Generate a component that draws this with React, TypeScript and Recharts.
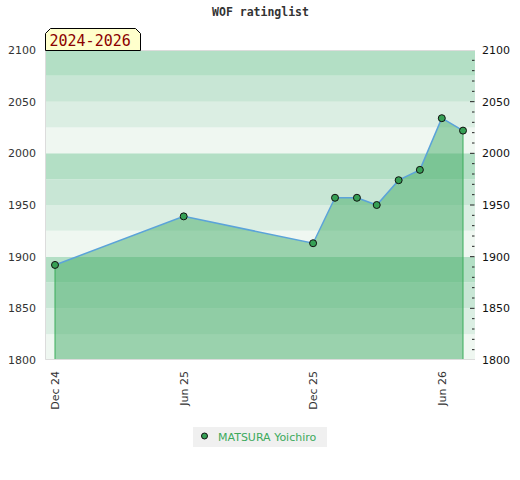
import {
  ComposedChart,
  Area,
  Line,
  XAxis,
  YAxis,
  ReferenceArea,
  ReferenceLine,
} from "recharts"

const listDates = [
  "2024-12-01",
  "2025-06-01",
  "2025-12-01",
  "2026-01-01",
  "2026-02-01",
  "2026-03-01",
  "2026-04-01",
  "2026-05-01",
  "2026-06-01",
  "2026-07-01",
]
const ratings = [1892, 1939, 1913, 1957, 1957, 1950, 1974, 1984, 2034, 2022]

const tickDates = ["2024-12-01", "2025-06-01", "2025-12-01", "2026-06-01"]
const leftTicks = [1800, 1850, 1900, 1950, 2000, 2050, 2100]
const playerName = "MATSURA Yoichiro"
const periodLabel = "2024-2026"
const chartTitle = "WOF ratinglist"

const months = ["Jan", "Feb", "Mar", "Apr", "May", "Jun", "Jul", "Aug", "Sep", "Oct", "Nov", "Dec"]

const toTime = (s: string) => {
  const [y, m, d] = s.split("-").map(Number)
  return Date.UTC(y, m - 1, d)
}

const data = listDates.map((d, i) => ({ t: toTime(d), rating: ratings[i] }))

const yMin = 1800
const yMax = 2100
const rightTicks = Array.from({ length: (yMax - yMin) / 10 + 1 }, (_, i) => yMin + i * 10)
const bandEdges = Array.from({ length: (yMax - yMin) / 25 }, (_, i) => yMin + i * 25)
const bandColors = ["#b3dfc5", "#c8e6d5", "#dbeee3", "#eff7f1"]

const font = "'DejaVu Sans', sans-serif"
const green = "#36a055"
const month = 31 * 24 * 3600 * 1000

const fmtDate = (v: number) => {
  const d = new Date(v)
  return `${months[d.getUTCMonth()]} ${String(d.getUTCFullYear()).slice(2)}`
}

const XTick = (props: any) => {
  const { x, y, payload } = props
  return (
    <text
      transform={`translate(${x + 4},${y + 3}) rotate(-90)`}
      textAnchor="end"
      fontSize={11}
      fontFamily={font}
      fill="#333"
    >
      {fmtDate(payload.value)}
    </text>
  )
}

const RightTick = (props: any) => {
  const { x, y, payload } = props
  const major = payload.value % 50 === 0
  return (
    <g>
      {payload.value !== yMax && payload.value !== yMin && (
        <line x1={major ? x - 5 : x - 3} x2={x - 0.5} y1={y} y2={y} stroke="#222" strokeWidth={1} />
      )}
      {major && (
        <text x={x + 7} y={y + 4} fontSize={11} fontFamily={font} fill="#111">
          {payload.value}
        </text>
      )}
    </g>
  )
}

export default function App() {
  const first = data[0]
  const last = data[data.length - 1]
  return (
    <div style={{ position: "absolute", left: 0, top: 0, width: 520, height: 480, background: "#fff" }}>
      <ComposedChart
        width={520}
        height={480}
        data={data}
        margin={{ top: 50, right: 0, bottom: 60, left: 0 }}
      >
        <XAxis
          dataKey="t"
          type="number"
          scale="time"
          domain={["dataMin", "dataMax"]}
          padding={{ left: 10, right: 12 }}
          ticks={tickDates.map(toTime)}
          tick={<XTick />}
          tickLine={false}
          axisLine={false}
          height={60}
          interval={0}
        />
        <YAxis
          yAxisId="left"
          domain={[yMin, yMax]}
          ticks={leftTicks}
          width={45}
          tickSize={0}
          tickMargin={9}
          axisLine={false}
          tickLine={false}
          tick={{ fontSize: 11, fontFamily: font, fill: "#333" }}
          interval={0}
        />
        <YAxis
          yAxisId="right"
          orientation="right"
          domain={[yMin, yMax]}
          ticks={rightTicks}
          width={45}
          tickSize={0}
          tickMargin={0}
          axisLine={false}
          tickLine={false}
          tick={<RightTick />}
          interval={0}
        />
        {bandEdges.map((b, i) => (
          <ReferenceArea
            key={b}
            yAxisId="left"
            x1={first.t - month}
            x2={last.t + month}
            y1={b}
            y2={b + 25}
            ifOverflow="hidden"
            fill={bandColors[3 - (i % 4)]}
            fillOpacity={1}
            stroke="none"
          />
        ))}
        <Area
          yAxisId="left"
          type="linear"
          dataKey="rating"
          name={playerName}
          stroke="#5ba3d9"
          strokeWidth={1.5}
          fill="#3ba75f"
          fillOpacity={0.47}
          dot={{ r: 3.5, fill: green, stroke: "#111", strokeWidth: 1, fillOpacity: 1 }}
          isAnimationActive={false}
        />
        {/* keeps the right axis alive, draws nothing */}
        <Line
          yAxisId="right"
          dataKey="rating"
          stroke="none"
          dot={false}
          activeDot={false}
          legendType="none"
          isAnimationActive={false}
        />
        <ReferenceLine
          yAxisId="left"
          segment={[{ x: first.t, y: yMin }, { x: first.t, y: first.rating }]}
          stroke="#3aad5a"
          strokeWidth={1}
        />
        <ReferenceLine
          yAxisId="left"
          segment={[{ x: last.t, y: yMin }, { x: last.t, y: last.rating }]}
          stroke="#3aad5a"
          strokeWidth={1}
        />
      </ComposedChart>
      <svg
        width={520}
        height={480}
        style={{ position: "absolute", left: 0, top: 0, pointerEvents: "none" }}
      >
        <path d="M475,50.5 L45.5,50.5 L45.5,359.5 L475,359.5" fill="none" stroke="#dcdcdc" />
        <text
          x={260.5}
          y={16}
          textAnchor="middle"
          fontSize={11.5}
          fontWeight="bold"
          fontFamily="'DejaVu Sans Mono', monospace"
          fill="#333"
        >
          {chartTitle}
        </text>
        <path
          d="M45.5,50.5 L45.5,33.5 L50.5,28.5 L135.5,28.5 L140.5,33.5 L140.5,50.5 Z"
          fill="#ffffcc"
          stroke="#000"
          strokeWidth={1}
        />
        <text
          x={49.5}
          y={46}
          fontSize={15}
          fontFamily="'DejaVu Sans Mono', monospace"
          fill="#8b0000"
        >
          {periodLabel}
        </text>
        <rect x={193} y={427} width={134} height={20} fill="#f0f0f0" />
        <circle cx={204.5} cy={436} r={3} fill={green} stroke="#111" strokeWidth={1} />
        <text x={218} y={440.5} fontSize={11} fontFamily={font} fill="#3daa5c">
          {playerName}
        </text>
      </svg>
    </div>
  )
}
